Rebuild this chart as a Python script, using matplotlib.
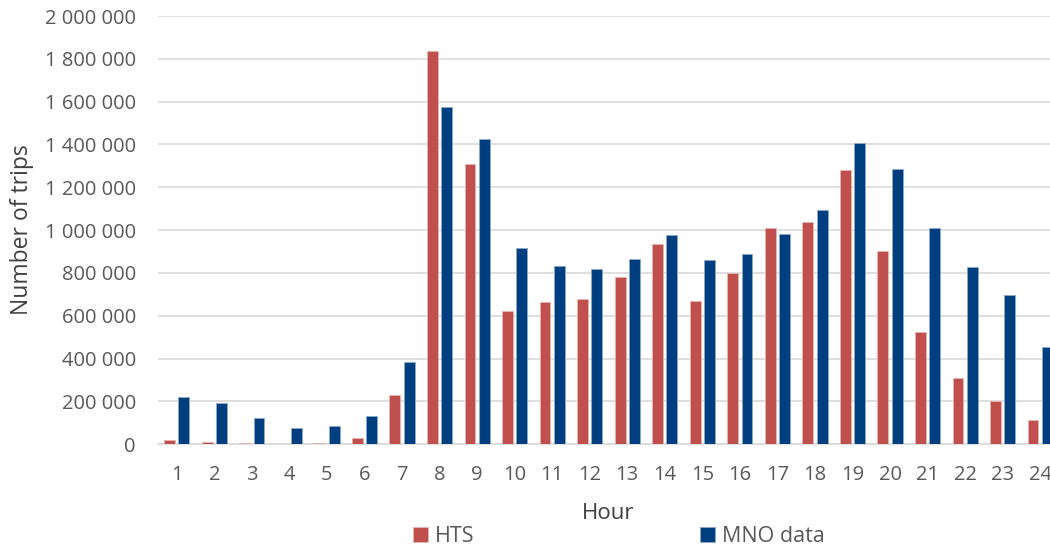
import numpy as np
import matplotlib.pyplot as plt
from matplotlib.ticker import FuncFormatter

# --- Trips per hour of day: household travel survey vs mobile network data
hours = list(range(1, 25))
hts_trips = [20000, 10000, 6000, 2000, 6000, 30000, 230000, 1837000, 1307000, 621000,
             664000, 676000, 783000, 937000, 670000, 800000, 1011000, 1036000, 1281000,
             903000, 522000, 311000, 203000, 114000]
mno_trips = [222000, 192000, 120000, 76000, 86000, 129000, 382000, 1577000, 1424000, 915000,
             834000, 820000, 866000, 978000, 858000, 887000, 983000, 1092000, 1408000,
             1287000, 1008000, 828000, 698000, 453000]

HTS_COLOR = '#C0504D'
MNO_COLOR = '#003F7F'
TEXT_COLOR = '#595959'

plt.rcParams['font.family'] = ['Open Sans', 'DejaVu Sans']

fig = plt.figure(figsize=(10.5, 5.51), dpi=100)
ax = fig.add_axes([0.1505, 0.194, 0.858, 0.7768])

x = np.arange(len(hours))
width = 0.29
offset = 0.19
ax.bar(x - offset, hts_trips, width, color=HTS_COLOR, edgecolor='#E8B5B3',
       linewidth=0.6, label='HTS', zorder=3)
ax.bar(x + offset, mno_trips, width, color=MNO_COLOR, edgecolor='#8FA8C8',
       linewidth=0.6, label='MNO data', zorder=3)

# --- Axes styling
ax.set_xlim(-0.5, len(hours) - 0.5)
ax.set_ylim(0, 2000000)
ax.set_yticks(np.arange(0, 2000001, 200000))
ax.yaxis.set_major_formatter(FuncFormatter(lambda v, p: f"{int(v):,}".replace(',', ' ')))
ax.set_xticks(x)
ax.set_xticklabels([str(h) for h in hours])
ax.tick_params(axis='both', length=0, labelsize=14.5, labelcolor=TEXT_COLOR)
ax.tick_params(axis='y', pad=16)
ax.tick_params(axis='x', pad=15)

ax.grid(axis='y', color='#D9D9D9', linewidth=1.2, zorder=0)
for side in ['top', 'right', 'left']:
    ax.spines[side].set_visible(False)
ax.spines['bottom'].set_color('#D9D9D9')
ax.spines['bottom'].set_linewidth(1.2)

ax.set_ylabel('Number of trips', fontsize=16.5, color='#404040', labelpad=8)
ax.set_xlabel('Hour', fontsize=16, color='#404040', labelpad=13)

# --- Legend below the x-axis label
fig.legend(loc='center', bbox_to_anchor=(0.5895, 0.027), ncol=2, frameon=False,
           fontsize=15.5, labelcolor=TEXT_COLOR, handlelength=0.7, handleheight=0.7,
           handletextpad=0.3, columnspacing=10.5)

plt.savefig('out.png', dpi=100)
